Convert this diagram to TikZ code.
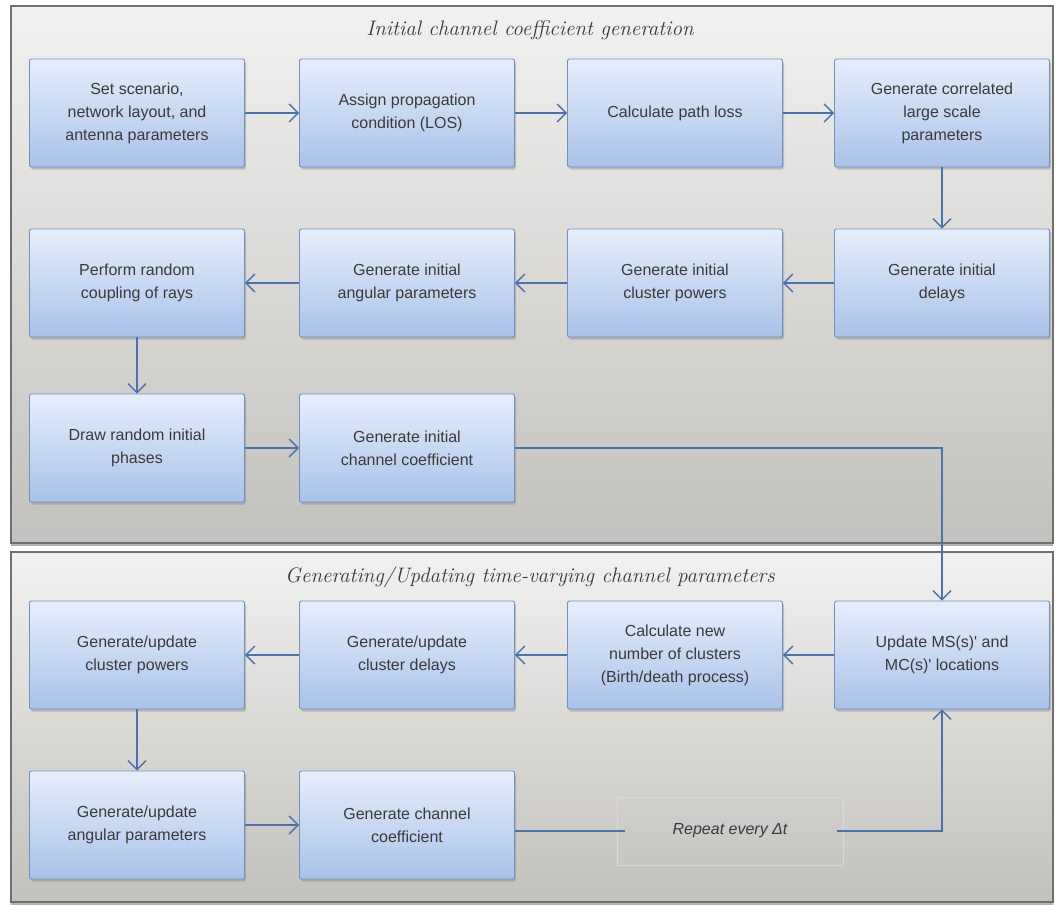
\documentclass[tikz,border=0pt]{standalone}
\usepackage{fontspec}
\newfontfamily\boxfont{Liberation Sans}
\definecolor{flowblue}{HTML}{4A72B0}
\definecolor{boxedge}{HTML}{7391C0}
\definecolor{boxtop}{HTML}{E6EEFB}
\definecolor{boxbot}{HTML}{A9C2E9}
\definecolor{paneltop}{HTML}{F1F1EF}
\definecolor{panelbot}{HTML}{C2C1BD}
\definecolor{paneledge}{HTML}{707070}
\definecolor{txtgray}{HTML}{3A3A3A}
\usetikzlibrary{arrows.meta, shadows}

\begin{document}
\begin{tikzpicture}[x=1pt, y=-1pt,
  panel/.style={draw=paneledge, line width=1.4pt, top color=paneltop, bottom color=panelbot,
    drop shadow={shadow xshift=0pt, shadow yshift=-2.5pt, opacity=0.6}},
  paneltitle/.style={font=\fontsize{21}{24}\selectfont\itshape, text=txtgray},
  procbox/.style={draw=boxedge, line width=0.9pt, rounded corners=2pt, top color=boxtop, bottom color=boxbot,
    minimum width=215pt, minimum height=108pt, align=center, text=txtgray,
    font=\boxfont\fontsize{16}{23}\selectfont,
    drop shadow={shadow xshift=1.5pt, shadow yshift=-2.5pt, opacity=0.4}},
  flow/.style={flowblue, line width=1.4pt, -{Straight Barb[length=9pt, width=18pt, line width=1.4pt]}},
  plain/.style={flowblue, line width=1.4pt}]
  \useasboundingbox (0,0) rectangle (1056,905);

  % Panels
  \draw[panel] (11,6) rectangle (1053,543);
  \draw[panel] (11,552) rectangle (1053,902);
  \node[paneltitle] (ttop) at (530,30) {Initial channel coefficient generation};
  \node[paneltitle] (tbot) at (530,577) {Generating/Updating time-varying channel parameters};

  % Initial generation
  \node[procbox] (setscn) at (137,113) {Set scenario,\\network layout, and\\antenna parameters};
  \node[procbox] (assign) at (407,113) {Assign propagation\\condition (LOS)};
  \node[procbox] (pathloss) at (675,113) {Calculate path loss};
  \node[procbox] (lsp) at (942,113) {Generate correlated\\large scale\\parameters};
  \node[procbox] (delays) at (942,283) {Generate initial\\delays};
  \node[procbox] (powers) at (675,283) {Generate initial\\cluster powers};
  \node[procbox] (angles) at (407,283) {Generate initial\\angular parameters};
  \node[procbox] (coupling) at (137,283) {Perform random\\coupling of rays};
  \node[procbox] (phases) at (137,448) {Draw random initial\\phases};
  \node[procbox] (initcoef) at (407,448) {Generate initial\\channel coefficient};

  % Time-varying update
  \node[procbox] (update) at (942,655) {Update MS(s)' and\\MC(s)' locations};
  \node[procbox] (newclus) at (675,655) {Calculate new\\number of clusters\\(Birth/death process)};
  \node[procbox] (clusdel) at (407,655) {Generate/update\\cluster delays};
  \node[procbox] (cluspow) at (137,655) {Generate/update\\cluster powers};
  \node[procbox] (angupd) at (137,825) {Generate/update\\angular parameters};
  \node[procbox] (chcoef) at (407,825) {Generate channel\\coefficient};
  \node[draw=white!70!gray, line width=0.6pt, minimum width=226pt, minimum height=68pt,
    font=\boxfont\itshape\fontsize{16}{20}\selectfont, text=txtgray] (repeat) at (730,831) {Repeat every Δt};

  % Connectors
  \draw[flow] (setscn) -- (assign);
  \draw[flow] (assign) -- (pathloss);
  \draw[flow] (pathloss) -- (lsp);
  \draw[flow] (lsp) -- (delays);
  \draw[flow] (delays) -- (powers);
  \draw[flow] (powers) -- (angles);
  \draw[flow] (angles) -- (coupling);
  \draw[flow] (coupling) -- (phases);
  \draw[flow] (phases) -- (initcoef);
  \draw[flow] (initcoef) -| (update);
  \draw[flow] (update) -- (newclus);
  \draw[flow] (newclus) -- (clusdel);
  \draw[flow] (clusdel) -- (cluspow);
  \draw[flow] (cluspow) -- (angupd);
  \draw[flow] (angupd) -- (chcoef);
  \draw[plain] (chcoef.east |- repeat.west) -- ([xshift=8pt]repeat.west);
  \draw[flow] ([xshift=-6pt]repeat.east) -| (update);
\end{tikzpicture}
\end{document}
